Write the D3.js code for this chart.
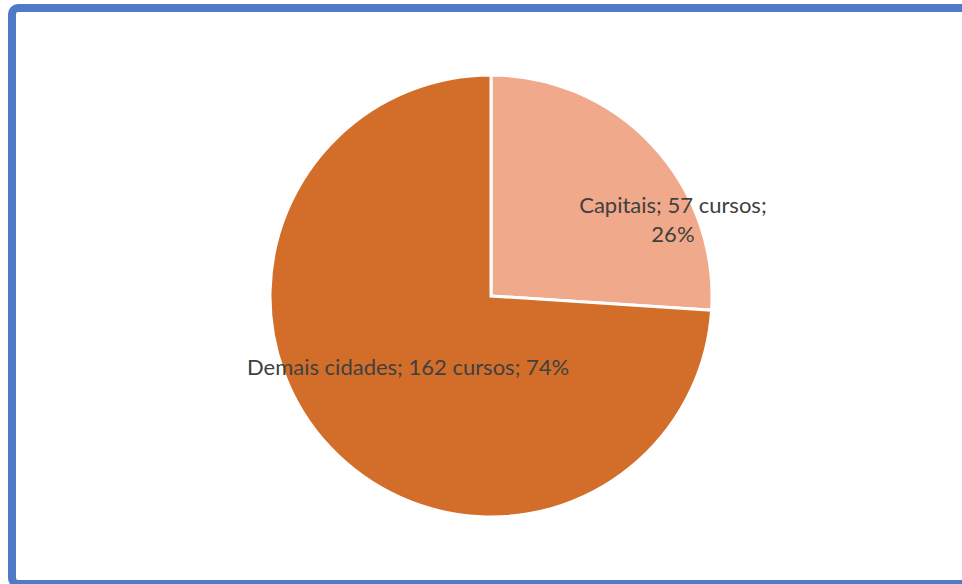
<!DOCTYPE html>
<html>
<head>
<meta charset="utf-8">
<script src="https://cdn.jsdelivr.net/npm/d3@7"></script>
<style>
  body { margin: 0; background: #fff; }
  svg { display: block; }
</style>
</head>
<body>
<div class="canvas"></div>
<script>
const [width, height] = [962, 584];

// data
const categories = ['Capitais', 'Demais cidades'];
const cursos = [57, 162];
const colors = ['#f0a98a', '#d36e2a'];

const svg = d3.select('.canvas')
                .append('svg')
                .attr('width', width)
                .attr('height', height);

// chart frame (blue border, right side runs off the picture)
svg.append('rect')
    .attr('x', 12)
    .attr('y', 8)
    .attr('width', 980)
    .attr('height', 576)
    .attr('rx', 6)
    .attr('fill', 'none')
    .attr('stroke', '#4f7bc6')
    .attr('stroke-width', 8);

const cx = 491, cy = 296, radius = 221;

const total = d3.sum(cursos);
const data = categories.map((c, i) => ({ name: c, value: cursos[i], color: colors[i] }));

const pie = d3.pie()
    .value(d => d.value)
    .sort(null)
    .startAngle(0)
    .endAngle(2 * Math.PI);

const arc = d3.arc()
    .innerRadius(0)
    .outerRadius(radius);

const g = svg.append('g').attr('transform', `translate(${cx},${cy})`);

const arcs = pie(data);

g.selectAll('path.slice')
    .data(arcs)
    .enter()
    .append('path')
    .attr('class', 'slice')
    .attr('d', arc)
    .attr('fill', d => d.data.color)
    .attr('stroke', '#fff')
    .attr('stroke-width', 3)
    .attr('stroke-linejoin', 'miter');

// label placement: shift of angle (rad) from slice middle, and radius fraction
const labelPlace = [
    { dAngle: 0.35, k: 0.895, lines: d => [`${d.data.name}; ${d.data.value} cursos;`, pct(d)] },
    { dAngle: 0.055, k: 0.49, lines: d => [`${d.data.name}; ${d.data.value} cursos; ${pct(d)}`] }
];

function pct(d) {
    return Math.round(d.data.value / total * 100) + '%';
}

const lineH = 29;

arcs.forEach((d, i) => {
    const p = labelPlace[i];
    const a = (d.startAngle + d.endAngle) / 2 + p.dAngle;
    const x = Math.sin(a) * radius * p.k;
    const y = -Math.cos(a) * radius * p.k;
    const lines = p.lines(d);
    const t = g.append('text')
        .attr('x', x)
        .attr('y', y - (lines.length - 1) * lineH / 2)
        .attr('text-anchor', 'middle')
        .attr('dominant-baseline', 'central')
        .attr('fill', '#404040')
        .style('font-family', 'Lato, "Open Sans", sans-serif')
        .style('font-size', '22px');
    lines.forEach((l, j) => {
        t.append('tspan')
            .attr('x', x)
            .attr('dy', j === 0 ? 0 : lineH)
            .text(l);
    });
});
</script>
</body>
</html>
